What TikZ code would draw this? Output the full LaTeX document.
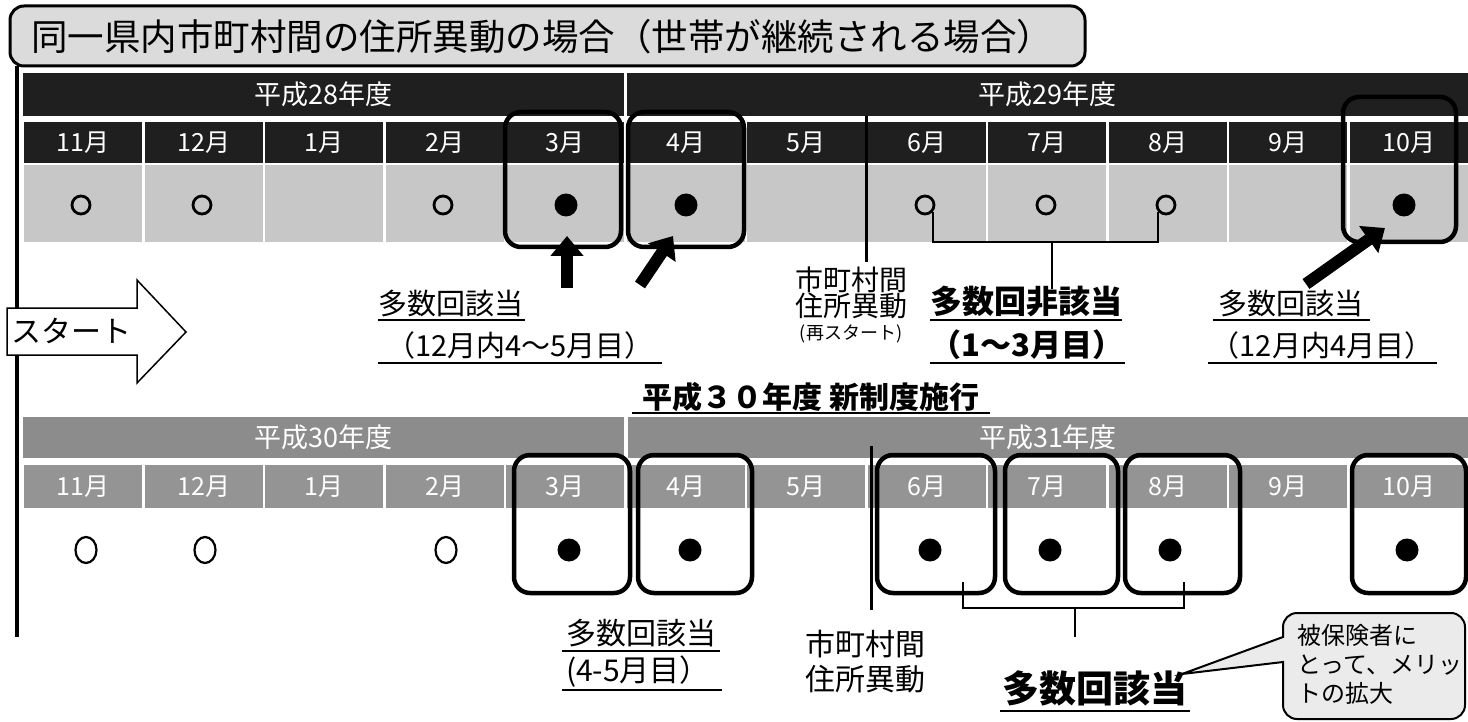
\documentclass[tikz,border=0pt]{standalone}
\usepackage{fontspec}
\setmainfont{Noto Sans CJK JP}
\usetikzlibrary{arrows.meta,shapes.geometric}
\tikzset{
  fs/.style={font=\fontsize{#1}{#1}\selectfont},
  titlebox/.style={draw,fill=black!14,line width=3,rounded corners=14},
  ybar/.style={fill=black!88,text=white,minimum height=43,inner sep=0,fs=27},
  ybarlow/.style={fill=black!45,text=white,minimum height=41,inner sep=0,fs=27},
  mtop/.style={fill=black!88,text=white,minimum width=118,minimum height=41,inner sep=0,fs=25},
  gtop/.style={fill=black!22,minimum width=118,minimum height=77,inner sep=0},
  mlow/.style={fill=black!42,text=white,minimum width=118,minimum height=43,inner sep=0,fs=25},
  opendot/.style={circle,draw,line width=2.8,minimum size=18,inner sep=0},
  openlow/.style={ellipse,draw,line width=2.2,minimum width=21,minimum height=26,inner sep=0},
  fulldot/.style={circle,fill=black,minimum size=23,inner sep=0},
  hbox/.style={draw,line width=4.5,rounded corners=16},
  fat/.style={line width=12,-{Triangle[width=32pt,length=20pt]}},
  sepline/.style={line width=3},
  brk/.style={line width=2.5},
  uline/.style={line width=2.5},
  lbl/.style={inner sep=0,fs=29},
  blbl/.style={inner sep=0,font=\fontsize{#1}{#1}\selectfont\bfseries},
}
\begin{document}
\begin{tikzpicture}[x=1pt,y=-1pt]
  \useasboundingbox (0,0) rectangle (1468,722);
  % title
  \draw[titlebox] (10,6) rectangle (1085,66);
  \node[fs=36.5,anchor=west,inner sep=0] (title) at (31,37) {同一県内市町村間の住所異動の場合（世帯が継続される場合）};
  \coordinate (ltop) at (17,66);
  \coordinate (lbot) at (17,637);
  \draw[line width=3.5] (ltop) -- (lbot);

  % year bars
  \path
    (323.5,94.5) node[ybar,minimum width=601] (y28) {平成28年度}
    (1047.5,94.5) node[ybar,minimum width=841] (y29) {平成29年度}
    (323.5,437.5) node[ybarlow,minimum width=601] (y30) {平成30年度}
    (1048,437.5) node[ybarlow,minimum width=840] (y31) {平成31年度};

  % upper months
  \path
    (83,203.5) node[gtop] (g11) {}
    (204,203.5) node[gtop] (g12) {}
    (324,203.5) node[gtop] (g1) {}
    (445,203.5) node[gtop] (g2) {}
    (565,203.5) node[gtop] (g3) {}
    (686,203.5) node[gtop] (g4) {}
    (806,203.5) node[gtop] (g5) {}
    (927,203.5) node[gtop] (g6) {}
    (1047,203.5) node[gtop] (g7) {}
    (1168,203.5) node[gtop] (g8) {}
    (1288,203.5) node[gtop] (g9) {}
    (1409,203.5) node[gtop] (g10) {};
  \path
    (83,142.5) node[mtop] (t11) {11月}
    (204,142.5) node[mtop] (t12) {12月}
    (324,142.5) node[mtop] (t1) {1月}
    (445,142.5) node[mtop] (t2) {2月}
    (565,142.5) node[mtop] (t3) {3月}
    (686,142.5) node[mtop] (t4) {4月}
    (806,142.5) node[mtop] (t5) {5月}
    (927,142.5) node[mtop] (t6) {6月}
    (1047,142.5) node[mtop] (t7) {7月}
    (1168,142.5) node[mtop] (t8) {8月}
    (1288,142.5) node[mtop] (t9) {9月}
    (1409,142.5) node[mtop] (t10) {10月};
  \path
    (81,205) node[opendot] (c11) {}
    (202,205) node[opendot] (c12) {}
    (443,205) node[opendot] (c2) {}
    (566,205) node[fulldot] (d3) {}
    (686,205) node[fulldot] (d4) {}
    (925,205) node[opendot] (c6) {}
    (1046,205) node[opendot] (c7) {}
    (1166,205) node[opendot] (c8) {}
    (1404,205) node[fulldot] (d10) {};
  \draw[hbox] (505,112) rectangle (621,247);
  \draw[hbox] (628,112) rectangle (744,247);
  \draw[hbox] (1343,97) rectangle (1456,242);

  % lower months
  \path
    (83,486.5) node[mlow] (b11) {11月}
    (204,486.5) node[mlow] (b12) {12月}
    (324,486.5) node[mlow] (b1) {1月}
    (445,486.5) node[mlow] (b2) {2月}
    (565,486.5) node[mlow] (b3) {3月}
    (686,486.5) node[mlow] (b4) {4月}
    (806,486.5) node[mlow] (b5) {5月}
    (927,486.5) node[mlow] (b6) {6月}
    (1047,486.5) node[mlow] (b7) {7月}
    (1168,486.5) node[mlow] (b8) {8月}
    (1288,486.5) node[mlow] (b9) {9月}
    (1409,486.5) node[mlow] (b10) {10月};
  \path
    (86,550) node[openlow] (o11) {}
    (205,550) node[openlow] (o12) {}
    (446,550) node[openlow] (o2) {}
    (569,550) node[fulldot] (e3) {}
    (690,550) node[fulldot] (e4) {}
    (930,550) node[fulldot] (e6) {}
    (1050,550) node[fulldot] (e7) {}
    (1170,550) node[fulldot] (e8) {}
    (1407,550) node[fulldot] (e10) {};
  \draw[hbox] (514,455) rectangle (630,593);
  \draw[hbox] (638,455) rectangle (752,593);
  \draw[hbox] (877,455) rectangle (995,593);
  \draw[hbox] (1005,455) rectangle (1118,593);
  \draw[hbox] (1125,455) rectangle (1240,593);
  \draw[hbox] (1352,455) rectangle (1466,593);

  % start arrow
  \draw[line width=1.5,fill=white] (7,308) -- (137,308) -- (137,280) -- (186,332)
    -- (137,383) -- (137,355) -- (7,355) -- cycle;
  \node[fs=30,inner sep=0] (start) at (72,331) {スタート};

  % moves between municipalities
  \coordinate (s1a) at (866,116);
  \coordinate (s1b) at (866,262);
  \coordinate (s2a) at (871,446);
  \coordinate (s2b) at (871,610);
  \draw[sepline] (s1a) -- (s1b);
  \draw[sepline] (s2a) -- (s2b);

  % arrows
  \coordinate (a3s) at (567,288);
  \coordinate (a3e) at (567,236);
  \coordinate (a4s) at (640,285);
  \coordinate (a4e) at (673,236);
  \coordinate (a10s) at (1306,284);
  \coordinate (a10e) at (1385,228);
  \begin{scope}[fat]
    \draw (a3s) -- (a3e);
    \draw (a4s) -- (a4e);
    \draw (a10s) -- (a10e);
  \end{scope}

  % brackets
  \coordinate (br1) at (1052,242);
  \coordinate (br1s) at (1052,289);
  \draw[brk] (c6.-40) |- (br1) -| (c8.-140);
  \draw[brk] (br1) -- (br1s);
  \coordinate (br2l) at (963,582);
  \coordinate (br2) at (1075,608);
  \coordinate (br2r) at (1184,582);
  \coordinate (br2s) at (1075,637);
  \draw[brk] (br2l) |- (br2) -| (br2r);
  \draw[brk] (br2) -- (br2s);

  % labels upper
  \node[lbl] (la1) at (451,303) {多数回該当};
  \node[lbl] (la2) at (520,345) {（12月内4〜5月目）};
  \node[inner sep=0,align=center,font=\fontsize{28}{26}\selectfont] (lb1) at (851,293) {市町村間\\住所異動};
  \node[inner sep=0,fs=18] (lb2) at (851,334) {(再スタート)};
  \node[blbl=32] (lc1) at (1026,301) {多数回非該当};
  \node[blbl=31] (lc2) at (1027,345) {（1〜3月目）};
  \node[lbl] (ld1) at (1291,303) {多数回該当};
  \node[lbl] (ld2) at (1322,345) {（12月内4月目）};
  \node[blbl=30] (le) at (811,397) {平成３０年度\ 新制度施行};
  \draw[uline] (378,320) -- (525,320);
  \draw[uline] (378,363) -- (662,363);
  \draw[uline] (930,320) -- (1122,320);
  \draw[uline] (930,363) -- (1125,363);
  \draw[uline] (1213,320) -- (1370,320);
  \draw[uline] (1208,363) -- (1437,363);
  \draw[uline] (632,413) -- (990,413);

  % labels lower
  \node[fs=30,inner sep=0] (lf1) at (641,633) {多数回該当};
  \node[fs=30,inner sep=0] (lf2) at (638,672) {(4-5月目）};
  \draw[uline] (562,651) -- (720,651);
  \draw[uline] (562,690) -- (722,690);
  \node[inner sep=0,align=center,font=\fontsize{30}{35}\selectfont] (lg) at (865,662) {市町村間\\住所異動};
  \node[blbl=37] (lh) at (1095,688) {多数回該当};
  \draw[uline] (1000,711) -- (1190,711);

  % note
  \coordinate (tip) at (1182,674);
  \draw[line width=2,fill=black!8] (tip) -- (1283,637) {[rounded corners=14] -- (1283,613)
    -- (1465,613) -- (1465,719) -- (1283,719)} -- (1283,662) -- cycle;
  \node[anchor=north west,align=left,inner sep=0,font=\fontsize{24}{29}\selectfont] (note) at (1297,624) {被保険者に\\とって、メリッ\\トの拡大};
\end{tikzpicture}
\end{document}
